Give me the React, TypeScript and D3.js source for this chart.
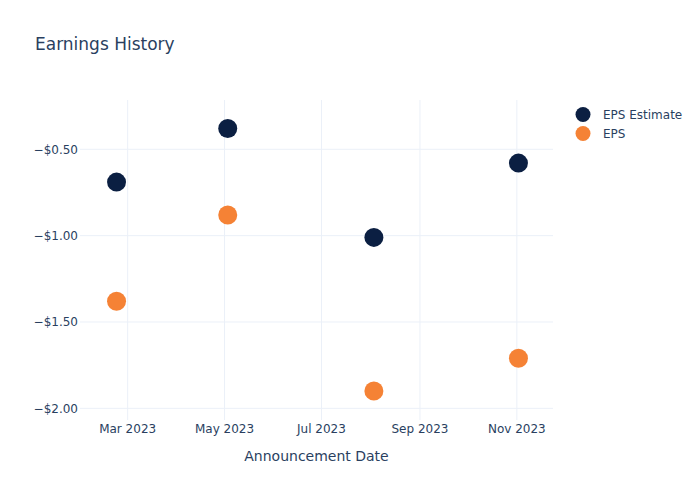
import React from "react";
import * as d3 from "d3";

const dates = ["2023-02-22", "2023-05-03", "2023-08-03", "2023-11-02"];
const epsEstimate = [-0.69, -0.38, -1.01, -0.58];
const epsActual = [-1.38, -0.88, -1.9, -1.71];
const yTicks = [-0.5, -1.0, -1.5, -2.0];
const xTickDates = ["2023-03-01", "2023-05-01", "2023-07-01", "2023-09-01", "2023-11-01"];
const seriesNames = ["EPS Estimate", "EPS"];
const seriesColors = ["#0b1f42", "#f58235"];

const W = 700, H = 500;
const L = 80, R = 553, T = 100, B = 420;
const font = "'DejaVu Sans', Verdana, sans-serif";
const textColor = "#2a3f5f";
const gridColor = "#ebf0f8";

const parse = d3.utcParse("%Y-%m-%d");

export default function App() {
  const x = d3
    .scaleUtc()
    .domain([parse("2023-01-30")!, new Date(Date.UTC(2023, 10, 23, 18))])
    .range([L, R]);
  const y = d3.scaleLinear().domain([-2.0675, -0.2145]).range([B, T]);
  const fmtX = d3.utcFormat("%b %Y");
  const fmtY = (v: number) => "\u2212$" + Math.abs(v).toFixed(2);
  const series = [epsEstimate, epsActual];

  return (
    <svg width={W} height={H} style={{ position: "absolute", left: 0, top: 0, background: "#fff" }} fontFamily={font}>
      <rect x={0} y={0} width={W} height={H} fill="#fff" />
      {xTickDates.map((d) => {
        const xx = x(parse(d)!);
        return (
          <g key={d}>
            <line x1={xx} x2={xx} y1={T} y2={B} stroke={gridColor} strokeWidth={1} />
            <text x={xx} y={433} textAnchor="middle" fontSize={12} fill={textColor}>
              {fmtX(parse(d)!)}
            </text>
          </g>
        );
      })}
      {yTicks.map((v) => (
        <g key={v}>
          <line x1={L} x2={R} y1={y(v)} y2={y(v)} stroke={gridColor} strokeWidth={1} />
          <text x={78} y={y(v)} dy="0.36em" textAnchor="end" fontSize={12} fill={textColor}>
            {fmtY(v)}
          </text>
        </g>
      ))}
      {series.map((vals, si) =>
        vals.map((v, i) => (
          <circle
            key={si + "-" + i}
            cx={x(parse(dates[i])!)}
            cy={y(v)}
            r={9.5}
            fill={seriesColors[si]}
          />
        ))
      )}
      <text x={35} y={50} fontSize={17} fill={textColor}>
        Earnings History
      </text>
      <text x={(L + R) / 2} y={461} textAnchor="middle" fontSize={14} fill={textColor}>
        Announcement Date
      </text>
      {seriesNames.map((n, i) => (
        <g key={n} transform={`translate(583, ${114.5 + i * 19})`}>
          <circle cx={0} cy={0} r={7.5} fill={seriesColors[i]} />
          <text x={20} y={0} dy="0.36em" fontSize={12} fill={textColor}>
            {n}
          </text>
        </g>
      ))}
    </svg>
  );
}
